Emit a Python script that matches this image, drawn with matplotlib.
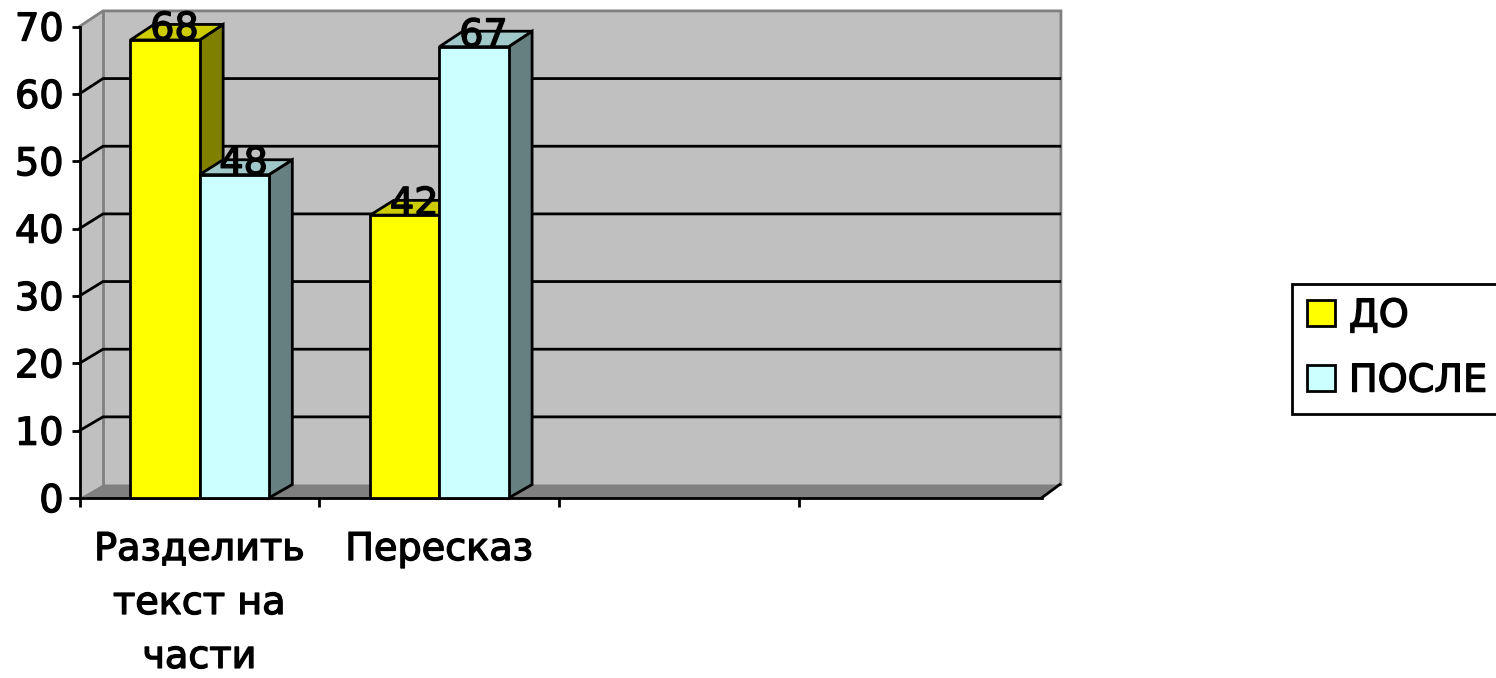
import matplotlib
matplotlib.use("Agg")
import matplotlib.pyplot as plt
import matplotlib.patheffects as pe
from matplotlib.patches import Patch
from matplotlib.text import Text

categories = ["Разделить\nтекст на\nчасти", "Пересказ", "", ""]
series_names = ["ДО", "ПОСЛЕ"]
do_values = [68, 42]
posle_values = [48, 67]
y_ticks = [0, 10, 20, 30, 40, 50, 60, 70]

W, H = 1496, 678
fig = plt.figure(figsize=(W / 100, H / 100), dpi=100, facecolor="white")
ax = fig.add_axes([79.5 / W, 1 - 498 / H, 962 / W, (498 - 26.5) / H])
XMAX = 4.012
ax.set_xlim(0, XMAX)
ax.set_ylim(0, 70)
ax.set_facecolor("none")
for s in ("top", "right"):
    ax.spines[s].set_visible(False)
LW = 2.0
ax.spines["left"].set_linewidth(LW)
ax.spines["bottom"].set_linewidth(LW)

FONT = "DejaVu Sans"
FS = 27.5
DX = 0.098
RX = 4.093


def dy(v):
    return 2.0 + 0.0045 * v


wall = "#C0C0C0"
grey = "#808080"
# walls and floor
ax.fill([0, DX, DX, 0], [0, dy(0), 70 + dy(70), 70], color=wall, lw=0, clip_on=False, zorder=0)
ax.fill([DX, RX, RX, DX], [dy(0), dy(0), 70 + dy(70), 70 + dy(70)],
        color=wall, lw=0, clip_on=False, zorder=0)
ax.fill([0, XMAX, RX, DX], [0, 0, dy(0), dy(0)], color=grey, lw=0, clip_on=False, zorder=1)
ax.plot([0, DX, RX, RX], [70, 70 + dy(70), 70 + dy(70), dy(0)],
        color=grey, lw=LW, clip_on=False, zorder=1, solid_joinstyle="miter")
ax.plot([DX, DX], [dy(0), 70 + dy(70)], color=grey, lw=LW, clip_on=False, zorder=1)
ax.plot([XMAX, RX - 0.005], [0, dy(0)], color="black", lw=LW, clip_on=False, zorder=1)
for v in y_ticks[1:-1]:
    ax.plot([0, DX, RX - 0.005], [v, v + dy(v), v + dy(v)], color="black", lw=LW,
            clip_on=False, zorder=1, solid_joinstyle="miter")


def bar3d(x, w, v, front, top, side, z):
    ec = dict(edgecolor="black", linewidth=LW, clip_on=False, zorder=z, joinstyle="miter")
    ax.fill([x + w, x + w + DX, x + w + DX, x + w], [0, dy(0), v + dy(v), v], facecolor=side, **ec)
    ax.fill([x, x + DX, x + w + DX, x + w], [v, v + dy(v), v + dy(v), v], facecolor=top, **ec)
    ax.fill([x, x + w, x + w, x], [0, 0, v, v], facecolor=front, **ec)
    ax.annotate(str(v), (x + w / 2 + DX * 0.4, v), xytext=(0, -5.5), textcoords="offset points",
                ha="center", va="bottom", fontsize=FS, family=FONT, color="black",
                annotation_clip=False, zorder=20)


BW = 0.2885
OFF = 0.2125
for i, (a, b) in enumerate(zip(do_values, posle_values)):
    bar3d(i + OFF, BW, a, "#FFFF00", "#CCCC00", "#808000", 5 + 2 * i)
    bar3d(i + OFF + BW, BW, b, "#CCFFFF", "#A0C8C8", "#668080", 6 + 2 * i)

ax.set_yticks(y_ticks)
ax.tick_params(axis="y", length=6, width=LW, pad=5.5, labelsize=FS)
ax.yaxis.get_major_ticks()[0].tick1line.set_markersize(8)
ax.set_xticks([0, 1, 2, 3])
ax.set_xticklabels([])
ax.tick_params(axis="x", length=6.5, width=LW)
for lab in ax.get_yticklabels():
    lab.set_family(FONT)

for i, c in enumerate(categories):
    if c:
        ax.annotate(c, (i + 0.5, 0), xytext=(0, -24.5), textcoords="offset points",
                    ha="center", va="top", fontsize=FS, family=FONT, linespacing=1.64,
                    annotation_clip=False)

handles = [Patch(facecolor="#FFFF00", edgecolor="black", linewidth=LW),
           Patch(facecolor="#CCFFFF", edgecolor="black", linewidth=LW)]
leg = fig.legend(handles, series_names, loc="upper left",
                 bbox_to_anchor=(1292 / W, 1 - 284 / H), bbox_transform=fig.transFigure,
                 borderaxespad=0, fancybox=False, framealpha=1, edgecolor="black",
                 prop={"family": FONT, "size": FS}, handlelength=0.74, handleheight=0.66,
                 handletextpad=0.37, labelspacing=0.76, borderpad=0.38)
leg.get_frame().set_linewidth(LW)

for t in fig.findobj(Text):
    if t.get_text():
        t.set_path_effects([pe.withStroke(linewidth=1.0, foreground="black")])

fig.savefig("out.png", dpi=100, facecolor="white")
